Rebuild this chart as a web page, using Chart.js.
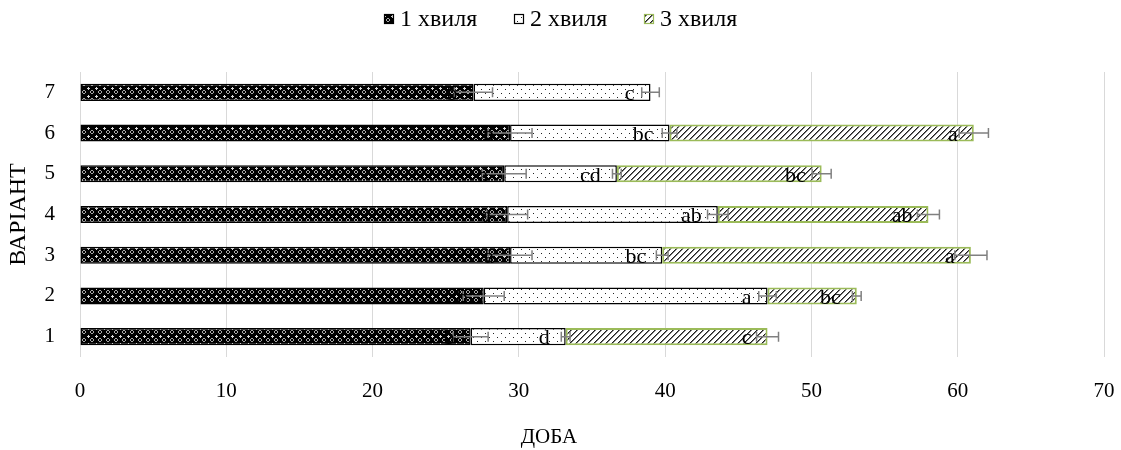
<!DOCTYPE html>
<html>
<head>
<meta charset="utf-8">
<script src="https://cdn.jsdelivr.net/npm/chart.js@4"></script>
<style>
  html, body { margin: 0; padding: 0; background: #fff; overflow: hidden; }
  canvas { display: block; }
</style>
</head>
<body>
<canvas id="chart" width="1121" height="450"></canvas>
<script>
// rows from bottom (1) to top (7)
const variants = ['1', '2', '3', '4', '5', '6', '7'];
const seriesNames = ['1 хвиля', '2 хвиля', '3 хвиля'];

// length of each wave, days (stacked)
const wave1 = [26.7, 27.6, 29.4, 29.2, 29.0, 29.4, 26.9];
const wave2 = [6.5, 19.4, 10.4, 14.4, 7.7, 10.9, 12.1];
const wave3 = [13.8, 6.1, 21.1, 14.4, 14.0, 20.8, null];

// error bars (+/-)
const err1 = [1.2, 1.4, 1.5, 1.4, 1.5, 1.5, 1.3];
const err2 = [0.3, 0.6, 0.4, 0.7, 0.3, 0.5, 0.6];
const err3 = [0.75, 0.3, 1.1, 0.75, 0.65, 1.0, null];

// significance letters
const letters1 = ['b', 'b', 'a', 'a', 'a', 'b', 'b'];
const letters2 = ['d', 'a', 'bc', 'ab', 'cd', 'bc', 'c'];
const letters3 = ['c', 'bc', 'a', 'ab', 'bc', 'a', ''];

const xTicks = [0, 10, 20, 30, 40, 50, 60, 70];

const FONT = '"Liberation Serif", "Times New Roman", serif';
const FS = 21;

function makePattern(size, draw) {
    let c = document.createElement('canvas');
    c.width = size; c.height = size;
    let g = c.getContext('2d');
    draw(g, size);
    return g.createPattern(c, 'repeat');
}

function px(g, list, col) {
    g.fillStyle = col;
    list.forEach(p => g.fillRect(p[0], p[1], 1, 1));
}

// dark confetti
const pat1 = makePattern(8, (g) => {
    g.fillStyle = '#000';
    g.fillRect(0, 0, 8, 8);
    px(g, [[0, 0], [1, 0], [7, 0], [0, 1], [0, 7]], '#d8d8d8');
    px(g, [[3, 2], [4, 2], [2, 3], [5, 3], [2, 4], [5, 4], [3, 5], [4, 5]], '#a8a8a8');
});
// sparse dots
const pat2 = makePattern(8, (g) => {
    g.fillStyle = '#fff';
    g.fillRect(0, 0, 8, 8);
    px(g, [[1, 1], [5, 5]], '#222');
});
// wide upward diagonal
const pat3 = makePattern(6, (g) => {
    let img = g.createImageData(6, 6);
    for (let y = 0; y < 6; y++) {
        for (let x = 0; x < 6; x++) {
            let k = (x + y) % 6;
            let v = k == 0 ? 30 : (k == 1 ? 120 : 255);
            let i = (y * 6 + x) * 4;
            img.data[i] = v; img.data[i + 1] = v; img.data[i + 2] = v; img.data[i + 3] = 255;
        }
    }
    g.putImageData(img, 0, 0);
});

const patterns = [pat1, pat2, pat3];
const borders = ['#000', '#000', '#9bbb59'];
const errors = [err1, err2, err3];
const letters = [letters1, letters2, letters3];

const extras = {
    id: 'extras',
    afterDatasetsDraw(chart) {
        let ctx = chart.ctx;
        let xs = chart.scales.x;
        ctx.save();
        // error bars
        ctx.strokeStyle = '#808080';
        ctx.lineWidth = 1.5;
        chart.data.datasets.forEach((ds, i) => {
            let meta = chart.getDatasetMeta(i);
            meta.data.forEach((bar, j) => {
                let e = errors[i][j];
                if (ds.data[j] == null || e == null) return;
                let d = xs.getPixelForValue(e) - xs.getPixelForValue(0);
                let x0 = bar.x - d, x1 = bar.x + d, y = bar.y;
                ctx.beginPath();
                ctx.moveTo(x0, y); ctx.lineTo(x1, y);
                ctx.moveTo(x0, y - 5); ctx.lineTo(x0, y + 5);
                ctx.moveTo(x1, y - 5); ctx.lineTo(x1, y + 5);
                ctx.stroke();
            });
        });
        // letters
        ctx.fillStyle = '#000';
        ctx.font = '22px ' + FONT;
        ctx.textAlign = 'right';
        ctx.textBaseline = 'middle';
        chart.data.datasets.forEach((ds, i) => {
            let meta = chart.getDatasetMeta(i);
            meta.data.forEach((bar, j) => {
                let t = letters[i][j];
                if (!t || ds.data[j] == null) return;
                ctx.fillText(t, bar.x - 16, bar.y + 2);
            });
        });
        ctx.restore();
    },
    afterDraw(chart) {
        let ctx = chart.ctx;
        ctx.save();
        // legend
        ctx.font = '24px ' + FONT;
        ctx.textAlign = 'left';
        ctx.textBaseline = 'middle';
        let x = 384;
        seriesNames.forEach((name, i) => {
            ctx.fillStyle = patterns[i];
            ctx.fillRect(x, 14, 10, 10);
            ctx.strokeStyle = borders[i];
            ctx.lineWidth = 1.2;
            ctx.strokeRect(x + 0.5, 14.5, 9, 9);
            ctx.fillStyle = '#000';
            ctx.fillText(name, x + 16, 20);
            x += 130;
        });
        // x axis title
        ctx.font = FS + 'px ' + FONT;
        ctx.textAlign = 'center';
        ctx.fillText('ДОБА', 549, 437);
        ctx.restore();
    }
};

new Chart(document.getElementById('chart'), {
    type: 'bar',
    data: {
        labels: variants,
        datasets: seriesNames.map((name, i) => ({
            label: name,
            data: [wave1, wave2, wave3][i],
            backgroundColor: patterns[i],
            borderColor: borders[i],
            borderWidth: i == 2 ? 2 : 1.5,
            borderSkipped: false
        }))
    },
    options: {
        indexAxis: 'y',
        responsive: false,
        animation: false,
        barPercentage: 0.42,
        categoryPercentage: 1,
        layout: { padding: { top: 72, right: 17, left: 0, bottom: 0 } },
        plugins: {
            legend: { display: false },
            tooltip: { enabled: false }
        },
        scales: {
            x: {
                stacked: true,
                min: 0,
                max: 70,
                afterBuildTicks: s => { s.ticks = xTicks.map(v => ({ value: v })); },
                grid: { color: '#d9d9d9', lineWidth: 1, drawTicks: false },
                border: { display: false },
                ticks: { font: { family: FONT, size: FS }, color: '#000', padding: 22 },
                afterFit: s => { s.height = 93; s.paddingLeft = 0; s.paddingRight = 0; }
            },
            y: {
                stacked: true,
                reverse: true,
                grid: { display: false, drawTicks: false },
                border: { display: false },
                ticks: { font: { family: FONT, size: FS }, color: '#000', padding: 25 },
                title: { display: true, text: 'ВАРІАНТ', font: { family: FONT, size: 24 }, color: '#000', padding: { top: 4, bottom: 0 } },
                afterFit: s => { s.width = 80; }
            }
        }
    },
    plugins: [extras]
});
</script>
</body>
</html>
